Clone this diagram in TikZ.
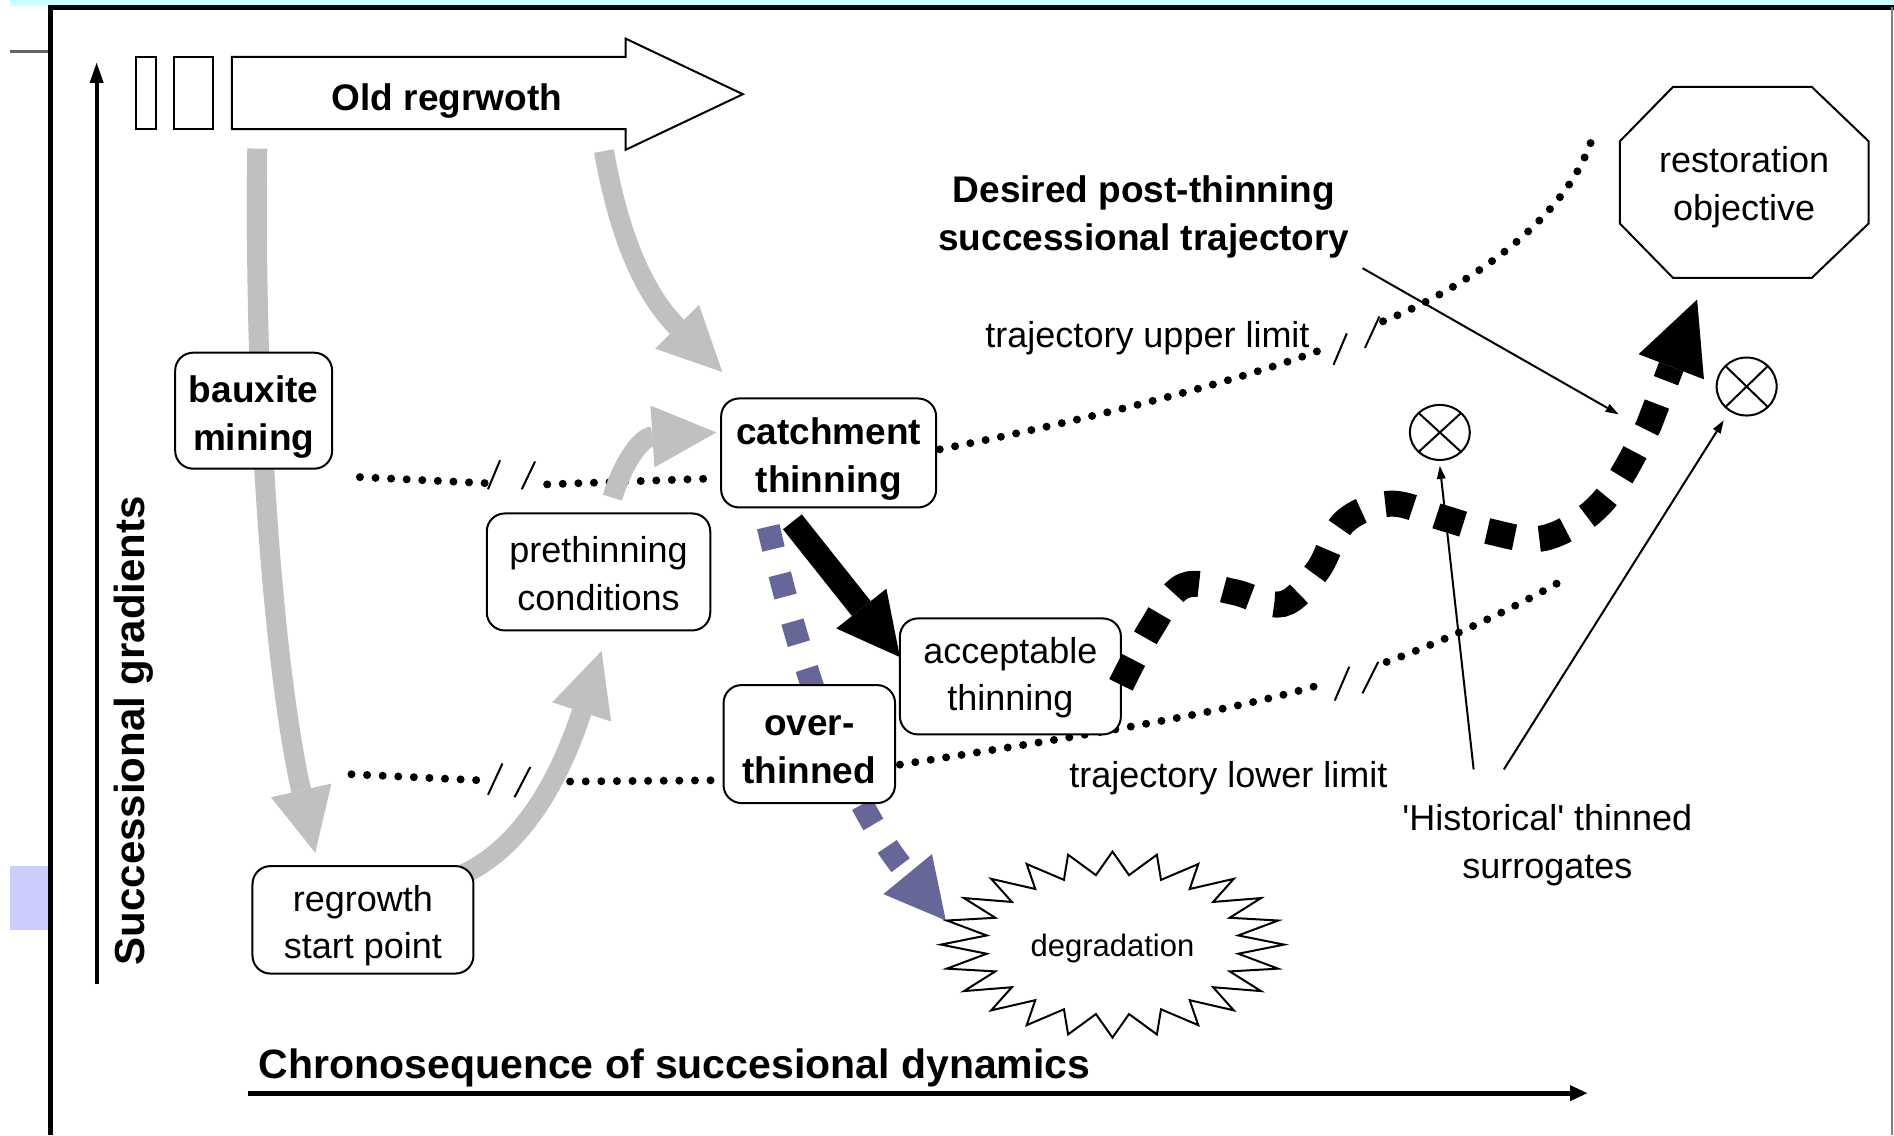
\documentclass[tikz,border=0pt]{standalone}
\usepackage{fontspec}
\setmainfont{Liberation Sans}
\usetikzlibrary{arrows.meta,calc,shapes.geometric}
\pgfdeclarelayer{bg}
\pgfsetlayers{bg,main}
\definecolor{grayc}{RGB}{192,192,192}
\definecolor{purp}{RGB}{102,102,153}
\definecolor{cyanc}{RGB}{204,255,255}
\definecolor{lav}{RGB}{204,204,255}
\definecolor{leftline}{RGB}{100,100,100}
\begin{document}
\begin{tikzpicture}[x=1.208pt,y=-1.208pt,
  reg/.style={font=\fontsize{36pt}{47.5pt}\selectfont},
  bld/.style={font=\fontsize{37pt}{48pt}\selectfont\bfseries},
  nbox/.style={draw,line width=2pt,rounded corners=18pt,fill=white,inner sep=0pt,outer sep=0pt},
  ntext/.style={align=center,inner sep=0pt},
  grayarrow/.style={line width=20pt,draw=grayc,-{Triangle[length=64pt,width=62pt,line width=0pt]}},
  dots/.style={line width=8pt,line cap=round,dash pattern=on 0pt off 15.6pt},
  brk/.style={line width=2pt},
  thinarr/.style={line width=2pt,-{Triangle[length=13pt,width=9pt,line width=0pt]}},
  hsym/.style={draw,ellipse,line width=2pt,inner sep=0pt,outer sep=0pt},
]
\useasboundingbox (0,0) rectangle (1568,940);
% frame
\fill[cyanc] (8,0) rectangle (1568,5);
\draw[line width=5pt] (40,6) -- (1568,6);
\draw[line width=5pt] (42,4) -- (42,940);
\draw[line width=1.5pt,gray] (1566.5,6) -- (1566.5,940);
\fill[lav] (8,717) rectangle (40,770);
\draw[line width=3pt,leftline] (8,43) -- (40,43);

% axes
\coordinate (ya0) at (80,815);
\coordinate (ya1) at (80,52);
\draw[line width=4pt,-{Triangle[length=20pt,width=14pt,line width=0pt]}] (ya0) -- (ya1);
\coordinate (xa0) at (205,905);
\coordinate (xa1) at (1314,905);
\draw[line width=5pt,-{Triangle[length=17pt,width=16pt,line width=0pt]}] (xa0) -- (xa1);
\node[font=\fontsize{42pt}{48pt}\selectfont\bfseries,rotate=90] (ylab) at (111,605) {Successional gradients};
\node[font=\fontsize{41pt}{48pt}\selectfont\bfseries,anchor=base] (xlab) at (558.5,893) {Chronosequence of succesional dynamics};

% old regrowth arrow
\draw[line width=2pt,fill=white] (113,47) rectangle (129,107);
\draw[line width=2pt,fill=white] (144,47) rectangle (176,107);
\draw[line width=2pt,fill=white] (192,47) -- (518,47) -- (518,32) -- (615,78) -- (518,124) -- (518,107) -- (192,107) -- cycle;
\node[bld,yshift=-4pt] (old) at (370,80) {Old regrwoth};

% restoration objective
\draw[line width=2pt,fill=white] (1385,72) -- (1500,72) -- (1547,117) -- (1547,185) -- (1500,230) -- (1385,230) -- (1341,185) -- (1341,117) -- cycle;
\node[reg,align=center,yshift=-3pt] (rest) at (1444,152.5) {restoration\\objective};

% boxes
\node[nbox,minimum width=157pt,minimum height=116pt] (baux) at (210,340) {};
\node[ntext,bld] (bauxT) at ([yshift=-6pt]baux.center) {bauxite\\mining};
\node[nbox,minimum width=215pt,minimum height=109pt] (catch) at (686,375) {};
\node[ntext,bld] (catchT) at ([yshift=-6pt]catch.center) {catchment\\thinning};
\node[nbox,minimum width=223.5pt,minimum height=117pt] (pre) at (495.5,473.5) {};
\node[ntext,reg] (preT) at ([yshift=-1.5pt]pre.center) {prethinning\\conditions};
\node[nbox,minimum width=221pt,minimum height=116pt] (acc) at (836.5,560) {};
\node[ntext,reg] (accT) at ([yshift=-1.5pt]acc.center) {acceptable\\thinning};
\node[nbox,minimum width=171.5pt,minimum height=118pt] (over) at (670,616) {};
\node[ntext,bld] (overT) at ([yshift=-5.5pt]over.center) {over-\\thinned};
\node[nbox,minimum width=221pt,minimum height=107.5pt] (regrow) at (300.5,761.5) {};
\node[ntext,reg] (regrowT) at ([yshift=-6pt]regrow.center) {regrowth\\start point};

% degradation starburst
\coordinate (dc) at (921,782);
\draw[line width=2pt,fill=white] ($(dc)+(0:142 and 77)$)
  \foreach \k in {0,...,23} { -- ($(dc)+({\k*15+7.5}:105 and 58)$) -- ($(dc)+({\k*15+15}:142 and 77)$) } -- cycle;
\node[font=\fontsize{31pt}{37pt}\selectfont,yshift=-3.5pt] (degr) at (dc) {degradation};

% historical surrogate symbols
\node[hsym,minimum width=60pt,minimum height=55pt] (h1) at (1192,358) {};
\draw[line width=2pt] (h1.north west) -- (h1.south east) (h1.north east) -- (h1.south west);
\node[hsym,minimum width=60pt,minimum height=58pt] (h2) at (1446,320) {};
\draw[line width=2pt] (h2.north west) -- (h2.south east) (h2.north east) -- (h2.south west);

% labels
\node[bld,align=center,yshift=-4pt] (desired) at (947,176.5) {Desired post-thinning\\successional trajectory};
\node[reg,yshift=-3.5pt] (upper) at (950,277) {trajectory upper limit};
\node[reg,yshift=-3.5pt] (lower) at (1017,641) {trajectory lower limit};
\node[reg,align=center,yshift=-2.5pt] (hist) at (1281,697.5) {\textquotesingle Historical\textquotesingle\ thinned\\surrogates};

% background connectors
\begin{pgfonlayer}{bg}
  % dotted trajectory limits
  \draw[dots] (298,395) -- (402,400);
  \draw[dots] (453,401) -- (593,396);
  \draw[dots] (778,372) .. controls (880,352) and (1020,318) .. (1098,288);
  \draw[dots] (1145,266) .. controls (1210,240) and (1295,185) .. (1318,115);
  \draw[dots] (291,641) -- (397,646);
  \draw[dots] (472,647) -- (590,646);
  \draw[dots] (745,633) .. controls (860,615) and (1020,590) .. (1099,565);
  \draw[dots] (1148,548) .. controls (1195,531) and (1250,505) .. (1289,483);
  % gray arrows
  \coordinate (g1s) at (213,123);
  \coordinate (g1e) at (261,706);
  \draw[grayarrow] (g1s) .. controls (210,350) and (228,560) .. (g1e);
  \coordinate (g2s) at (500,125);
  \coordinate (g2e) at (598,308);
  \draw[grayarrow] (g2s) .. controls (515,210) and (540,250) .. (g2e);
  \coordinate (g3s) at (383,724);
  \coordinate (g3e) at (498,539);
  \draw[grayarrow] (g3s) .. controls (435,700) and (465,640) .. (g3e);
  \coordinate (g4s) at (507,412);
  \coordinate (g4e) at (593,358);
  \draw[grayarrow] (g4s) .. controls (515,385) and (530,362) .. (g4e);
  % over-thinning path
  \coordinate (p0) at (636,436);
  \coordinate (p1) at (783,762);
  \draw[line width=23pt,draw=purp,dash pattern=on 23pt off 26pt,-{Triangle[length=60pt,width=63pt,line width=0pt]}]
    (p0) .. controls (660,540) and (695,655) .. (p1);
\end{pgfonlayer}

% break marks
\draw[brk] (404,405) -- (414,381) (432,405) -- (443,382);
\draw[brk] (404,658) -- (416,632) (426,660) -- (439,635);
\draw[brk] (1104,302) -- (1115,276) (1130,288) -- (1142,262);
\draw[brk] (1105,580) -- (1117,552) (1128,574) -- (1141,548);

% black solid arrow
\coordinate (b0) at (656,432);
\coordinate (b1) at (745,544);
\draw[line width=24pt,-{Triangle[length=62pt,width=64pt,line width=0pt]}] (b0) -- (b1);

% desired wavy trajectory
\coordinate (w0) at (928,567);
\coordinate (w1) at (1405,248);
\draw[line width=26pt,dash pattern=on 28pt off 25pt,-{Triangle[length=72pt,width=70pt,line width=0pt]}]
  plot[smooth,tension=0.6] coordinates {(w0) (953,520) (980,485) (1021,490) (1062,500) (1091,472) (1113,432) (1151,417) (1192,428) (1233,440) (1275,446) (1313,428) (1340,398) (1365,352)} -- (w1);

% thin pointer arrows
\coordinate (d0) at (1128,222);
\coordinate (d1) at (1340,343);
\draw[thinarr] (d0) -- (d1);
\coordinate (hs1) at (1220,637);
\draw[thinarr] (hs1) -- ([yshift=-6pt]h1.south);
\coordinate (hs2) at (1245,637);
\draw[thinarr] (hs2) -- (1427,348);
\end{tikzpicture}
\end{document}
